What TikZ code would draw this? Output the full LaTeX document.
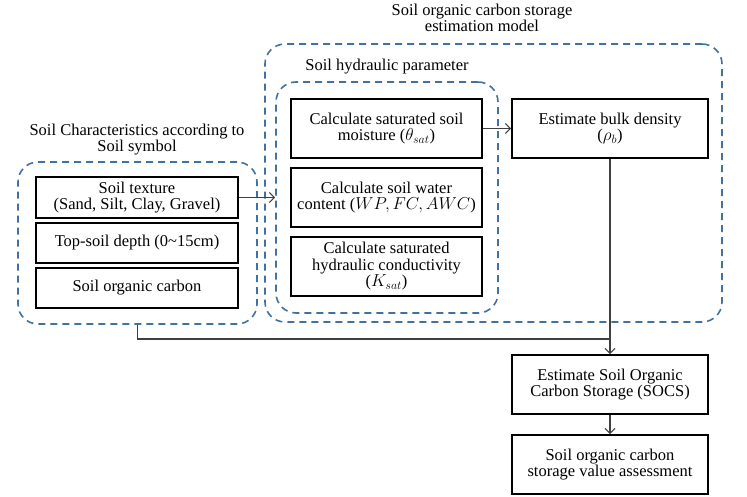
\documentclass[tikz,border=0pt]{standalone}
\usepackage{fontspec}
\setmainfont{Liberation Serif}
\usetikzlibrary{arrows.meta}
\definecolor{dashblue}{RGB}{65,113,160}
\definecolor{conn}{RGB}{64,64,64}
\begin{document}
\begin{tikzpicture}[x=1pt,y=-1pt,
  every node/.style={font=\fontsize{16.5}{16.5}\selectfont},
  box/.style={draw=black,line width=1.6pt,rectangle,align=center,inner sep=0pt},
  group/.style={draw=dashblue,line width=1.6pt,dash pattern=on 7pt off 5pt,rounded corners=20pt,rectangle,inner sep=0pt},
  lbl/.style={align=center,inner sep=0pt},
  conline/.style={draw=conn,line width=1.1pt},
  arr/.style={conline,-{Straight Barb[length=5pt,width=10pt,line width=1.1pt]}}
]
\useasboundingbox (0,0) rectangle (747,497);
% groups
\node[group,minimum width=457pt,minimum height=278pt] (model) at (493.5,183) {};
\node[group,minimum width=222pt,minimum height=231pt] (hyd) at (387,197.5) {};
\node[group,minimum width=239pt,minimum height=162pt] (left) at (137.5,243) {};
% group labels
\node[lbl] (modellbl) at (482,18) {Soil organic carbon storage\\estimation model};
\node[lbl] (hydlbl) at (387,67) {Soil hydraulic parameter};
\node[lbl] (leftlbl) at (137,139.5) {Soil Characteristics according to\\Soil symbol};
% left boxes
\node[box,minimum width=202pt,minimum height=41pt] (texture) at (137,197.5) {Soil texture\\(Sand, Silt, Clay, Gravel)};
\node[box,minimum width=202pt,minimum height=40pt] (depth) at (137,243) {Top-soil depth (0\textasciitilde15cm)};
\node[box,minimum width=202pt,minimum height=40pt] (soc) at (137,288) {Soil organic carbon};
% hydraulic boxes
\node[box,minimum width=191pt,minimum height=59pt] (sat) at (386.5,128.5) {Calculate saturated soil\\moisture ($\theta_{sat}$)};
\node[box,minimum width=191pt,minimum height=59pt] (water) at (386.5,197.5) {Calculate soil water\\content ($WP, FC, AWC$)};
\node[box,minimum width=191pt,minimum height=59pt] (ksat) at (386.5,266.5) {Calculate saturated\\hydraulic conductivity\\($K_{sat}$)};
% right boxes
\node[box,minimum width=196pt,minimum height=59pt] (bulk) at (610,128.5) {Estimate bulk density\\($\rho_b$)};
\node[box,minimum width=196pt,minimum height=59pt] (socs) at (610,384.5) {Estimate Soil Organic\\Carbon Storage (SOCS)};
\node[box,minimum width=196pt,minimum height=59pt] (assess) at (610,464.5) {Soil organic carbon\\storage value assessment};
% connectors
\coordinate (join) at (610,339);
\draw[arr] (texture.east) -- (hyd.west);
\draw[arr] (sat.east) -- (bulk.west);
\draw[arr] (bulk.south) -- (socs.north);
\draw[conline] (left.south) |- (join);
\draw[arr] (socs.south) -- (assess.north);
\end{tikzpicture}
\end{document}
